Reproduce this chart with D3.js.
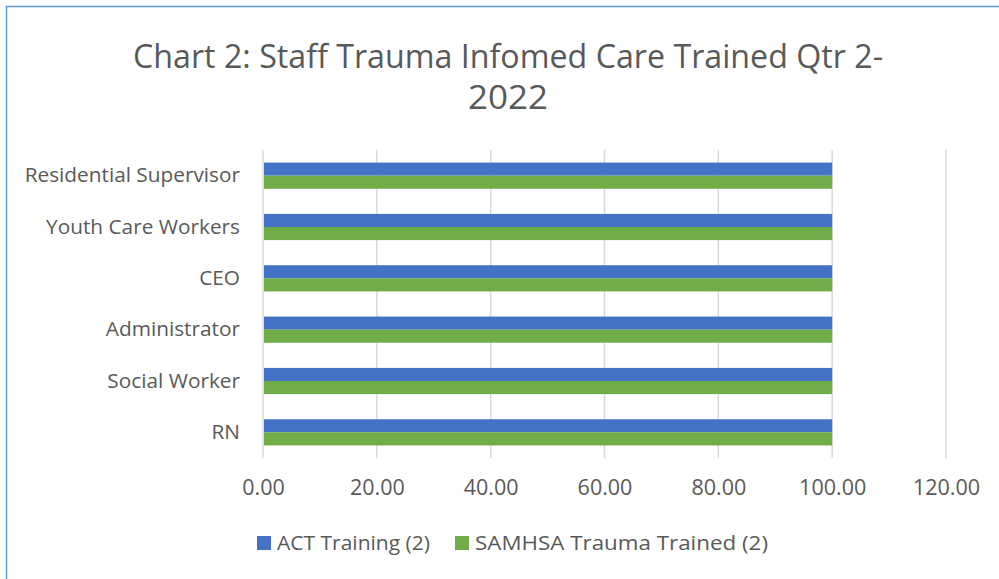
<html>
<head>
<style>
  body { margin: 0; background: #fff; }
  text { font-family: "Open Sans", "Noto Sans", sans-serif; fill: #595959; }
</style>
</head>
<body>
<svg id="chart"></svg>
<script src="https://cdn.jsdelivr.net/npm/d3@7"></script>
<script>
// data
var categories = ["Residential Supervisor", "Youth Care Workers", "CEO", "Administrator ", "Social Worker", "RN"];
var seriesNames = ["ACT Training (2)", "SAMHSA Trauma Trained (2)"];
var actTraining = [100, 100, 100, 100, 100, 100];
var samhsaTrained = [100, 100, 100, 100, 100, 100];
var xTicks = [0, 20, 40, 60, 80, 100, 120];
var colors = ["#4472c4", "#70ad47"];

var screen = {width: 999, height: 579};
var margins = {top: 150, bottom: 121, left: 263, right: 53};
var graph = {
    width: screen.width - margins.left - margins.right,
    height: screen.height - margins.top - margins.bottom
};

var svg = d3.select("#chart")
    .attr("width", screen.width)
    .attr("height", screen.height);

// outer border (only top and left show in the frame)
svg.append("rect")
    .attr("x", 6.5).attr("y", 6.5)
    .attr("width", screen.width + 20).attr("height", screen.height + 20)
    .attr("fill", "none")
    .attr("stroke", "#5b9bd5")
    .attr("stroke-width", 1.5);

// title
var title = svg.append("text")
    .attr("text-anchor", "middle")
    .attr("font-size", 32);
title.append("tspan")
    .attr("x", 508).attr("y", 68)
    .attr("textLength", 750).attr("lengthAdjust", "spacingAndGlyphs")
    .text("Chart 2: Staff Trauma Infomed Care Trained Qtr 2-");
title.append("tspan")
    .attr("x", 508).attr("y", 109)
    .attr("textLength", 80).attr("lengthAdjust", "spacingAndGlyphs")
    .text("2022");

var xScale = d3.scaleLinear()
    .domain([0, 120])
    .range([0, graph.width]);

var yScale = d3.scaleBand()
    .domain(categories)
    .range([0, graph.height])
    .paddingInner(0.49)
    .paddingOuter(0.245);

var g = svg.append("g")
    .attr("transform", "translate(" + margins.left + "," + margins.top + ")");

// gridlines
g.selectAll("line.grid")
    .data(xTicks)
    .enter()
    .append("line")
    .attr("class", "grid")
    .attr("x1", function(d) { return xScale(d); })
    .attr("x2", function(d) { return xScale(d); })
    .attr("y1", 0)
    .attr("y2", graph.height)
    .attr("stroke", "#d9d9d9")
    .attr("stroke-width", 1.5);

// bars
var rows = categories.map(function(c, i) {
    return {cat: c, values: [actTraining[i], samhsaTrained[i]]};
});

var sub = d3.scaleBand()
    .domain([0, 1])
    .range([0, yScale.bandwidth()]);

var groups = g.selectAll("g.row")
    .data(rows)
    .enter()
    .append("g")
    .attr("class", "row")
    .attr("transform", function(d) { return "translate(0," + yScale(d.cat) + ")"; });

groups.selectAll("rect")
    .data(function(d) { return d.values; })
    .enter()
    .append("rect")
    .attr("x", xScale(0) + 1)
    .attr("y", function(d, i) { return sub(i); })
    .attr("width", function(d) { return xScale(d) - xScale(0) - 1; })
    .attr("height", sub.bandwidth())
    .attr("fill", function(d, i) { return colors[i]; });

// x axis
var xAxis = d3.axisBottom(xScale)
    .tickValues(xTicks)
    .tickFormat(d3.format(".2f"))
    .tickSize(0)
    .tickPadding(22);

g.append("g")
    .attr("transform", "translate(0," + graph.height + ")")
    .call(xAxis)
    .call(function(a) { a.select(".domain").remove(); })
    .selectAll("text")
    .attr("font-size", 21.5)
    .attr("font-family", null)
    .attr("fill", "#595959");

// y axis
var yAxis = d3.axisLeft(yScale)
    .tickSize(0)
    .tickPadding(23);

g.append("g")
    .call(yAxis)
    .call(function(a) { a.select(".domain").remove(); })
    .selectAll("text")
    .attr("font-size", 20.8)
    .attr("font-family", null)
    .attr("fill", "#595959");

// legend
var legendX = [257, 455];
var legend = svg.selectAll("g.legend")
    .data(seriesNames)
    .enter()
    .append("g")
    .attr("class", "legend")
    .attr("transform", function(d, i) { return "translate(" + legendX[i] + ",543)"; });

legend.append("rect")
    .attr("x", 0).attr("y", -7)
    .attr("width", 14).attr("height", 14)
    .attr("fill", function(d, i) { return colors[i]; });

legend.append("text")
    .attr("x", 20)
    .attr("dy", "0.35em")
    .attr("font-size", 20.5)
    .attr("textLength", function(d, i) { return [153, 293][i]; })
    .attr("lengthAdjust", "spacingAndGlyphs")
    .text(function(d) { return d; });
</script>
</body>
</html>
